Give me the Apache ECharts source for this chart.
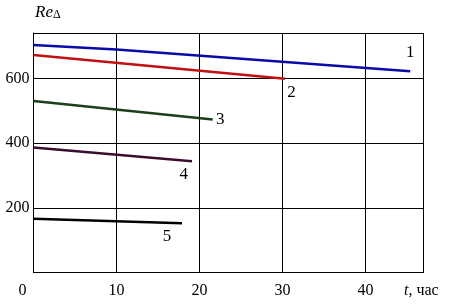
<!DOCTYPE html>
<html><head><meta charset="utf-8">
<script src="https://cdn.jsdelivr.net/npm/echarts@6/dist/echarts.min.js"></script>
<style>html,body{margin:0;padding:0;background:#fff}#c{width:461px;height:304px}</style>
</head><body><div id="c"></div>
<script>
const xTicks = [0, 10, 20, 30, 40];
const yTicks = [200, 400, 600];
const curveNames = ['1', '2', '3', '4', '5'];
const t1 = [0, 10, 45.4];   const re1 = [703, 689, 622];
const t2 = [0, 30.3];       const re2 = [672, 599];
const t3 = [0, 21.6];       const re3 = [530, 473];
const t4 = [0, 19.1];       const re4 = [386, 344];
const t5 = [0, 17.9];       const re5 = [166, 152];
const labelPos = [[45.4, 681], [31.1, 556], [22.5, 473], [18.1, 303], [16.1, 111]];

const colors = ['#0a0aa8', '#c41010', '#1b3f1b', '#3d0b30', '#000000'];
const ts = [t1, t2, t3, t4, t5], res = [re1, re2, re3, re4, re5];
const font = 'Liberation Serif';

const chart = echarts.init(document.getElementById('c'), null, {renderer: 'canvas'});
const series = ts.map((t, i) => ({
  type: 'line', name: curveNames[i],
  data: t.map((v, k) => [v, res[i][k]]),
  symbol: 'none', lineStyle: {color: colors[i], width: 2.5}, animation: false,
  markPoint: {
    symbol: 'circle', symbolSize: 0, animation: false,
    data: [{coord: labelPos[i], value: curveNames[i]}],
    label: {show: true, position: 'inside', formatter: curveNames[i], color: '#000', fontFamily: font, fontSize: 17}
  }
}));
chart.setOption({
  animation: false,
  grid: {left: 33.5, top: 33, right: 37.5, bottom: 31.5, containLabel: false},
  xAxis: {
    type: 'value', min: 0, max: 47, interval: 10,
    axisLine: {show: true, onZero: false, lineStyle: {color: '#000', width: 1}},
    axisTick: {show: false},
    splitLine: {show: true, lineStyle: {color: '#000', width: 1}},
    axisLabel: {
      showMaxLabel: false, margin: 10, color: '#000', fontFamily: font, fontSize: 16,
      formatter: v => xTicks.includes(v) ? (v === 0 ? '{z|0}' : String(v)) : '',
      rich: {z: {padding: [0, 22, 0, 0], fontFamily: font, fontSize: 16, color: '#000'}}
    }
  },
  yAxis: {
    type: 'value', min: 0, max: 740, interval: 200,
    axisLine: {show: true, lineStyle: {color: '#000', width: 1}},
    axisTick: {show: false},
    splitLine: {show: true, lineStyle: {color: '#000', width: 1}},
    axisLabel: {
      showMinLabel: false, showMaxLabel: false, margin: 4, color: '#000', fontFamily: font, fontSize: 16,
      formatter: v => yTicks.includes(v) ? String(v) : ''
    }
  },
  graphic: [
    {type: 'text', left: 35, top: 4, style: {
      text: '{r|Re}{s|Δ}', rich: {
        r: {fontFamily: font, fontStyle: 'italic', fontSize: 17, fill: '#000', verticalAlign: 'bottom'},
        s: {fontFamily: font, fontSize: 12, fill: '#000', padding: [10, 0, 0, 0], verticalAlign: 'bottom'}
      }}},
    {type: 'text', left: 404, top: 283, style: {
      text: '{i|t}{n|, час}', rich: {
        i: {fontFamily: font, fontStyle: 'italic', fontSize: 16, fill: '#000'},
        n: {fontFamily: font, fontSize: 16, fill: '#000'}
      }}}
  ],
  series: series
});
</script></body></html>
